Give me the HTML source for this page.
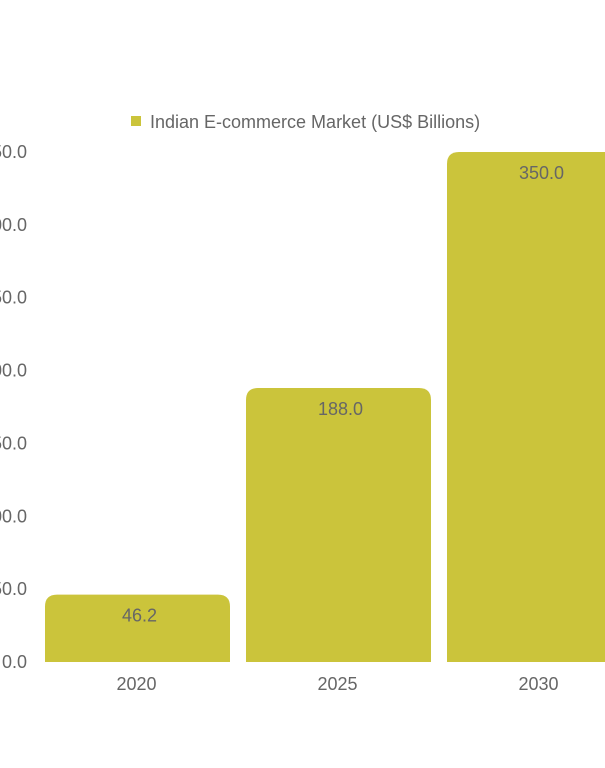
<!DOCTYPE html>
<html><head><meta charset="utf-8"><style>
html,body{margin:0;padding:0;background:#fff;}
svg{display:block;font-family:"Liberation Sans",Arial,sans-serif;}
</style></head><body>
<svg id="chart" width="605" height="768" viewBox="0 0 605 768">
<g id="legend">
<rect x="131" y="116" width="10" height="10" fill="#cbc43b"/>
<text x="150" y="128" font-size="18" fill="#666">Indian E-commerce Market (US$ Billions)</text>
</g>
<g id="yaxis"></g>
<g id="bars"></g>
<g id="xaxis"></g>
</svg>
<script>
const categories = ["2020", "2025", "2030"];
const values = [46.2, 188.0, 350.0];
const yTicks = [0, 50, 100, 150, 200, 250, 300, 350];
const NS = "http://www.w3.org/2000/svg";
const y0 = 662, y1 = 152, yMax = 350;
function yScale(v){ return y0 - (v / yMax) * (y0 - y1); }
const bandStart = 45, band = 201, barW = 185;
function xScale(i){ return bandStart + i * band; }
const yg = document.getElementById("yaxis");
yTicks.forEach(t => {
  const el = document.createElementNS(NS, "text");
  
  
  el.setAttribute("x", 27); el.setAttribute("y", yScale(t) + 6);
  el.setAttribute("text-anchor", "end"); el.setAttribute("font-size", "18"); el.setAttribute("fill", "#666");
  el.textContent = t.toFixed(1);
  yg.appendChild(el);
});
const bg = document.getElementById("bars"), xg = document.getElementById("xaxis");
values.forEach((v, i) => {
  const x = xScale(i), top = yScale(v), r = 12;
  const p = document.createElementNS(NS, "path");
  
  
  p.setAttribute("d", `M${x},${y0} L${x},${top + r} Q${x},${top} ${x + r},${top} L${x + barW - r},${top} Q${x + barW},${top} ${x + barW},${top + r} L${x + barW},${y0} Z`);
  p.setAttribute("fill", "#cbc43b");
  bg.appendChild(p);
  const t = document.createElementNS(NS, "text");
  
  
  t.setAttribute("x", x + barW / 2 + 2); t.setAttribute("y", top + 27);
  t.setAttribute("text-anchor", "middle"); t.setAttribute("font-size", "18"); t.setAttribute("fill", "#666");
  t.textContent = v.toFixed(1);
  bg.appendChild(t);
  const c = document.createElementNS(NS, "text");
  
  
  c.setAttribute("x", x + barW / 2 - 1); c.setAttribute("y", 690);
  c.setAttribute("text-anchor", "middle"); c.setAttribute("font-size", "18"); c.setAttribute("fill", "#666");
  c.textContent = categories[i];
  xg.appendChild(c);
});
</script>
</body></html>
